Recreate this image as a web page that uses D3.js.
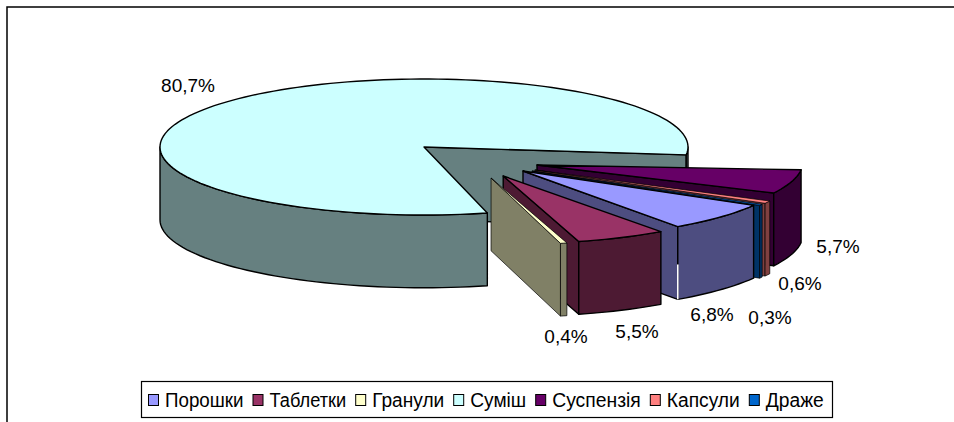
<!DOCTYPE html>
<html>
<head>
<meta charset="utf-8">
<script src="https://cdn.jsdelivr.net/npm/d3@7"></script>
<style>
  html, body { margin: 0; padding: 0; background: #fff; }
  svg { display: block; }
  text { font-family: "Liberation Sans", Arial, sans-serif; fill: #000; }
</style>
</head>
<body>
<svg id="chart" width="954" height="422"></svg>
<script>
const categories = ['Порошки', 'Таблетки', 'Гранули', 'Суміш', 'Суспензія', 'Капсули', 'Драже'];
const shares = [6.8, 5.5, 0.4, 80.7, 5.7, 0.6, 0.3];
const shareLabels = ['6,8%', '5,5%', '0,4%', '80,7%', '5,7%', '0,6%', '0,3%'];

const topColors = ['#9999ff', '#993366', '#ffffcc', '#ccffff', '#660066', '#ff8080', '#0066cc'];
const sideColors = ['#4d4d80', '#4d1a33', '#808066', '#668080', '#330033', '#804040', '#003366'];

// how far each slice is pulled out, in pie radii: the tip and the rim differ a little
const apexX = [0.375, 0.30, 0.254, 0, 0.428, 0.42, 0.409];
const apexY = [0.353, 0.426, 0.456, 0, 0.265, 0.338, 0.353];
const rimX = [0.386, 0.322, 0.277, 0, 0.435, 0.42, 0.409];
const rimY = [0.353, 0.426, 0.446, 0, 0.22, 0.338, 0.353];

const labelX = [712, 637, 566, 188, 838, 800, 770];
const labelY = [314, 331, 336, 85, 246, 283, 317];
const legendWidths = [78.5, 76.7, 72, 56, 88.6, 73, 58];

const paintOrder = [3, 4, 5, 6, 0, 1, 2];
const depth = 1.07;
const rad = Math.PI / 180;

const svg = d3.select('#chart');
const x = d3.scaleLinear().domain([-1, 1]).range([160, 688]);
const y = d3.scaleLinear().domain([-1, 1]).range([79, 215]);

const slices = d3.pie().sort(null)
  .startAngle(120.4 * rad)
  .endAngle((120.4 + 360) * rad)
  .value((d) => d)(shares);

const line = d3.line().x((p) => x(p[0])).y((p) => y(p[1]));

function rimPoint(a, i, drop = 0) {
  return [Math.sin(a) + rimX[i], -Math.cos(a) + rimY[i] + drop];
}

function rimPoints(a0, a1, i, drop = 0) {
  const steps = Math.max(2, Math.ceil((a1 - a0) / (2 * rad)));
  return d3.range(steps + 1).map((k) => rimPoint(a0 + (a1 - a0) * k / steps, i, drop));
}

function drawShape(points, fill, width) {
  svg.append('path')
    .attr('d', line(points) + 'Z')
    .attr('fill', fill)
    .attr('stroke', '#000')
    .attr('stroke-width', width)
    .attr('stroke-linejoin', 'round');
}

// parts of the rim that face the viewer (lower half of the ellipse)
function frontRanges(a0, a1) {
  const out = [];
  [[90, 270], [450, 630]].forEach(([lo, hi]) => {
    const s = Math.max(a0, lo * rad);
    const e = Math.min(a1, hi * rad);
    if (e > s) out.push([s, e]);
  });
  return out;
}

function drawSlice(i) {
  const s = slices[i];
  const apex = [apexX[i], apexY[i]];
  const apexDown = [apexX[i], apexY[i] + depth];
  // very thin slices would turn black with the full outline
  const width = shares[i] < 1 ? 0.7 : 1.4;
  drawShape([apex, rimPoint(s.endAngle, i), rimPoint(s.endAngle, i, depth), apexDown], sideColors[i], width);
  frontRanges(s.startAngle, s.endAngle).forEach(([a0, a1]) => {
    drawShape(rimPoints(a0, a1, i).concat(rimPoints(a0, a1, i, depth).reverse()), sideColors[i], width);
  });
  drawShape([apex].concat(rimPoints(s.startAngle, s.endAngle, i)), topColors[i], width);
  // Порошки has a thin white gap between its two side walls
  if (i === 0) {
    svg.append('path')
      .attr('d', line([rimPoint(s.endAngle, i, depth * 0.52), rimPoint(s.endAngle, i, depth)]))
      .attr('stroke', '#fff')
      .attr('stroke-width', 1.6);
  }
}

// outer frame: only the top and left edges are in view
svg.append('path')
  .attr('d', 'M7,422V7H954')
  .attr('fill', 'none')
  .attr('stroke', '#000')
  .attr('stroke-width', 1.5);

paintOrder.forEach(drawSlice);

svg.selectAll('text.share')
  .data(shareLabels)
  .join('text')
  .attr('class', 'share')
  .attr('x', (d, i) => labelX[i])
  .attr('y', (d, i) => labelY[i])
  .attr('text-anchor', 'middle')
  .attr('dominant-baseline', 'central')
  .attr('font-size', 19)
  .text((d) => d);

// legend
svg.append('rect')
  .attr('x', 141.5).attr('y', 381.5)
  .attr('width', 691).attr('height', 36)
  .attr('fill', '#fff').attr('stroke', '#000').attr('stroke-width', 1.2);

let cursor = 148.5;
categories.forEach((name, i) => {
  svg.append('rect')
    .attr('x', cursor).attr('y', 394.5)
    .attr('width', 10).attr('height', 11)
    .attr('fill', topColors[i]).attr('stroke', '#000');
  svg.append('text')
    .attr('x', cursor + 16.5).attr('y', 400)
    .attr('dominant-baseline', 'central')
    .attr('font-size', 19.5)
    .attr('textLength', legendWidths[i])
    .attr('lengthAdjust', 'spacingAndGlyphs')
    .text(name);
  cursor += 16.5 + legendWidths[i] + 9.5;
});
</script>
</body>
</html>
